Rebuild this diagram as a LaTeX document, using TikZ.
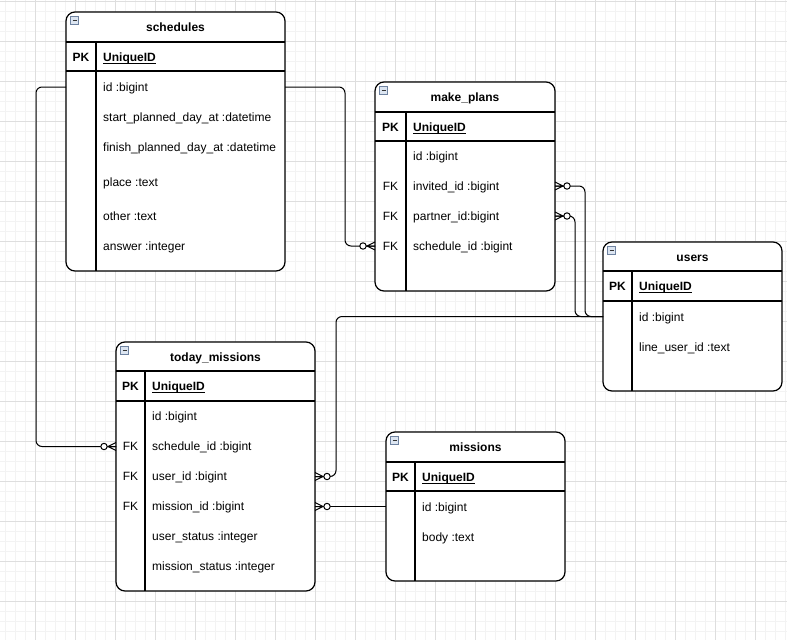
\documentclass[tikz,border=0pt]{standalone}
\usepackage{fontspec}
\setmainfont{Liberation Sans}
\definecolor{gridminor}{RGB}{243,243,243}
\definecolor{gridmajor}{RGB}{222,222,222}
\definecolor{iconb}{RGB}{110,130,160}
\definecolor{iconf}{RGB}{220,229,241}
\tikzset{
 tbl/.style={draw=black, line width=1.2pt, rounded corners=9pt, fill=white},
 tline/.style={draw=black, line width=1.2pt},
 conn/.style={draw=black, line width=1pt, rounded corners=6pt},
 fld/.style={anchor=base west, inner sep=0pt, font=\fontsize{12}{14}\selectfont},
 keyf/.style={anchor=base, inner sep=0pt, font=\fontsize{12}{14}\selectfont},
 pkkey/.style={anchor=base, inner sep=0pt, font=\fontsize{12}{14}\selectfont\bfseries},
 ttl/.style={anchor=base, inner sep=0pt, font=\fontsize{12}{14}\selectfont\bfseries},
 pkf/.style={anchor=base west, inner sep=0pt, font=\fontsize{12}{14}\selectfont\bfseries},
 uline/.style={draw=black, line width=0.9pt},
 zmany/.pic={
   \draw[line width=1pt] (0,-4) -- (8,0) (0,4) -- (8,0) (0,0) -- (9,0);
   \draw[line width=1pt, fill=white] (12,0) circle[radius=3.2pt];
 }
}
% name, x1, y1, x2, y2, divider x, header bottom, pk bottom, title
\newcommand\ertable[9]{%
 \path[tbl] (#2,#3) rectangle (#4,#5);
 \draw[tline] (#2,#7) -- (#4,#7) (#2,#8) -- (#4,#8) (#6,#7) -- (#6,#5);
 \node[ttl] (#1) at ({(#2+#4)/2},{(#3+#7)/2+4.5}) {#9};
 \draw[draw=iconb, fill=iconf, line width=0.7pt] ({#2+4.5},{#3+4.5}) rectangle ({#2+12.5},{#3+12});
 \draw[draw=black!80, line width=0.9pt] ({#2+6.5},{#3+8.3}) -- ({#2+10.5},{#3+8.3});
 \node[pkkey] (#1-pk) at ({(#2+#6)/2},{(#7+#8)/2+4.5}) {PK};
 \node[pkf] (#1-uid) at ({#6+7},{(#7+#8)/2+4.5}) {UniqueID};
 \draw[uline] ([yshift=-2pt]#1-uid.base west) -- ([yshift=-2pt]#1-uid.base east);
}
\begin{document}
\begin{tikzpicture}[x=1pt,y=-1pt]
\useasboundingbox (0,0) rectangle (787,640);
\fill[white] (0,0) rectangle (787,640);
% grid
\foreach \x in {5,15,...,785} \draw[gridminor, line width=0.8pt] (\x,0) -- (\x,640);
\foreach \y in {1.5,11.5,...,640} \draw[gridminor, line width=0.8pt] (0,\y) -- (787,\y);
\foreach \x in {35,75,...,785} \draw[gridmajor, line width=0.8pt] (\x,0) -- (\x,640);
\foreach \y in {1.5,41.5,...,640} \draw[gridmajor, line width=0.8pt] (0,\y) -- (787,\y);

% ---------- schedules
\ertable{sch}{66}{12}{285}{271}{96}{42}{71}{schedules}
\node[fld] (sch-id) at (103,91.5) {id :bigint};
\node[fld] (sch-start) at (103,121.5) {start\_planned\_day\_at :datetime};
\node[fld] (sch-finish) at (103,151.5) {finish\_planned\_day\_at :datetime};
\node[fld] (sch-place) at (103,186.5) {place :text};
\node[fld] (sch-other) at (103,220.5) {other :text};
\node[fld] (sch-answer) at (103,250.5) {answer :integer};
\coordinate (sch-id-R) at (285,87);
\coordinate (sch-id-L) at (66,87);

% ---------- make_plans
\ertable{mp}{375}{82}{555}{291}{406}{112}{141}{make\_plans}
\node[fld] (mp-id) at (413,160.5) {id :bigint};
\node[keyf] (mp-fk1) at (390.5,190.5) {FK};
\node[fld] (mp-inv) at (413,190.5) {invited\_id :bigint};
\node[keyf] (mp-fk2) at (390.5,220.5) {FK};
\node[fld] (mp-par) at (413,220.5) {partner\_id:bigint};
\node[keyf] (mp-fk3) at (390.5,250.5) {FK};
\node[fld] (mp-sch) at (413,250.5) {schedule\_id :bigint};
\coordinate (mp-inv-R) at (555,186);
\coordinate (mp-par-R) at (555,216);
\coordinate (mp-sch-L) at (375,246);

% ---------- users
\ertable{us}{603}{242}{782}{391}{632}{271}{301}{users}
\node[fld] (us-id) at (639,321.5) {id :bigint};
\node[fld] (us-line) at (639,351.5) {line\_user\_id :text};
\coordinate (us-id-L) at (603,316.5);

% ---------- today_missions
\ertable{tm}{116}{342}{315}{591}{145}{371}{401}{today\_missions}
\node[fld] (tm-id) at (152,420.5) {id :bigint};
\node[keyf] (tm-fk1) at (130.5,450.5) {FK};
\node[fld] (tm-sch) at (152,450.5) {schedule\_id :bigint};
\node[keyf] (tm-fk2) at (130.5,480.5) {FK};
\node[fld] (tm-usr) at (152,480.5) {user\_id :bigint};
\node[keyf] (tm-fk3) at (130.5,510.5) {FK};
\node[fld] (tm-mis) at (152,510.5) {mission\_id :bigint};
\node[fld] (tm-us) at (152,540.5) {user\_status :integer};
\node[fld] (tm-ms) at (152,570.5) {mission\_status :integer};
\coordinate (tm-sch-L) at (116,446.5);
\coordinate (tm-usr-R) at (315,476.5);
\coordinate (tm-mis-R) at (315,506.5);

% ---------- missions
\ertable{mi}{386}{432}{565}{581}{415}{462}{491}{missions}
\node[fld] (mi-id) at (422,511.5) {id :bigint};
\node[fld] (mi-body) at (422,541.5) {body :text};
\coordinate (mi-id-L) at (386,506.5);

% ---------- connectors
\draw[conn] (sch-id-R) -- (345,87) -- (345,246) -- (mp-sch-L);
\draw[conn] (sch-id-L) -- (36,87) -- (36,446.5) -- (tm-sch-L);
\draw[conn] (mp-inv-R) -- (585,186) -- (585,316.5) -- (us-id-L);
\draw[conn] (mp-par-R) -- (575,216) -- (575,316.5) -- (us-id-L);
\draw[conn] (tm-usr-R) -- (336,476.5) -- (336,316.5) -- (us-id-L);
\draw[conn] (tm-mis-R) -- (mi-id-L);

% crow's feet (zero to many)
\pic at (mp-sch-L) [rotate=180] {zmany};
\pic at (tm-sch-L) [rotate=180] {zmany};
\pic at (mp-inv-R) {zmany};
\pic at (mp-par-R) {zmany};
\pic at (tm-usr-R) {zmany};
\pic at (tm-mis-R) {zmany};
\end{tikzpicture}
\end{document}
